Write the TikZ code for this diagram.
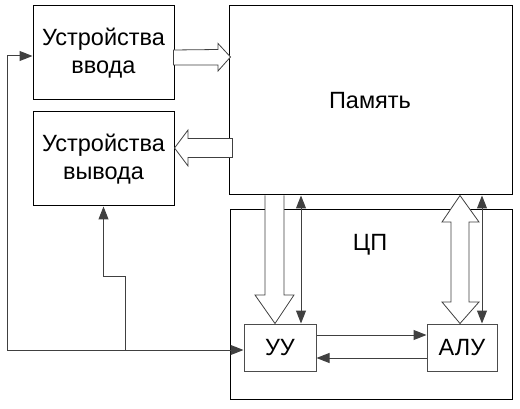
\documentclass[tikz,border=0pt]{standalone}
\usepackage{fontspec}
\setmainfont{Liberation Sans}
\usetikzlibrary{arrows.meta,calc}
\begin{document}
\begin{tikzpicture}[x=1pt,y=-1pt,
  txt/.style={font=\fontsize{23.5}{28}\selectfont},
  box/.style={draw=black,line width=1pt,inner sep=0pt,txt,align=center},
  sbox/.style={box,draw=black!70},
  conn/.style={draw=black!75,line width=1pt,-{Triangle[length=13pt,width=10pt]}},
  dconn/.style={draw=black!75,line width=1pt,{Triangle[length=13pt,width=10pt]}-{Triangle[length=13pt,width=10pt]}},
  hollow/.style={draw=black!75,fill=white,line width=0.8pt,line join=miter}]
\useasboundingbox (0,0) rectangle (520,409);
\node[box,minimum width=141pt,minimum height=94pt] (in) at (103.5,53) {Устройства\\ввода};
\node[box,minimum width=141pt,minimum height=94pt] (out) at (103.5,159) {Устройства\\вывода};
\node[box,minimum width=283pt,minimum height=189pt] (mem) at (370.5,100.5) {};
\node[txt] (memlbl) at (370,101) {Память};
\node[box,minimum width=282pt,minimum height=189pt] (cpu) at (371,304.5) {};
\node[txt] (cpulbl) at (370,245) {ЦП};
\node[sbox,minimum width=72pt,minimum height=47pt] (uu) at (280,347.5) {УУ};
\node[sbox,minimum width=70pt,minimum height=47pt] (alu) at (462,347.5) {АЛУ};
% hollow arrow input -> memory
\draw[hollow] ($(in.east)+(-1,-3)$) -- (218,49.5) -- (218,43.5) -- ($(mem.west |- 0,57)+(2,0)$) -- (218,71) -- (218,65) -- ($(in.east)+(-1,12)$) -- cycle;
% hollow arrow memory -> output
\draw[hollow] ($(mem.west |- 0,138.5)+(4,0)$) -- (188,138.5) -- (188,130) -- (out.east |- 0,148) -- (188,166) -- (188,157.5) -- ($(mem.west |- 0,157.5)+(4,0)$) -- cycle;
% hollow arrow memory -> УУ
\draw[hollow] (mem.south -| 265,0) -- (265,295) -- (255,295) -- (uu.north -| 275,0) -- (294,295) -- (284,295) -- (mem.south -| 284,0) ;
% hollow double arrow memory <-> АЛУ
\draw[hollow] (mem.south -| 460,0) -- (479,222) -- (469,222) -- (469,302) -- (479,302) -- (alu.north -| 460,0) -- (442,302) -- (451,302) -- (451,222) -- (442,222) -- cycle;
% thin double arrows
\draw[dconn] (mem.south -| 301,0) -- (uu.north -| 301,0);
\draw[dconn] (mem.south -| 482,0) -- (alu.north -| 482,0);
% between УУ and АЛУ
\draw[conn] (uu.east |- 0,335) -- (alu.west |- 0,335);
\draw[conn] (alu.west |- 0,358) -- (uu.east |- 0,358);
% feedback
\coordinate (J) at (125,350);
\coordinate (L) at (7,350);
\draw[conn] (J) -- (uu.west |- J);
\draw[conn] (J) -- (L) -- (L |- 0,56) -- (in.west |- 0,56);
\draw[conn] (J) -- (125,276) -- (103.5,276) -- (out.south);
\end{tikzpicture}
\end{document}
